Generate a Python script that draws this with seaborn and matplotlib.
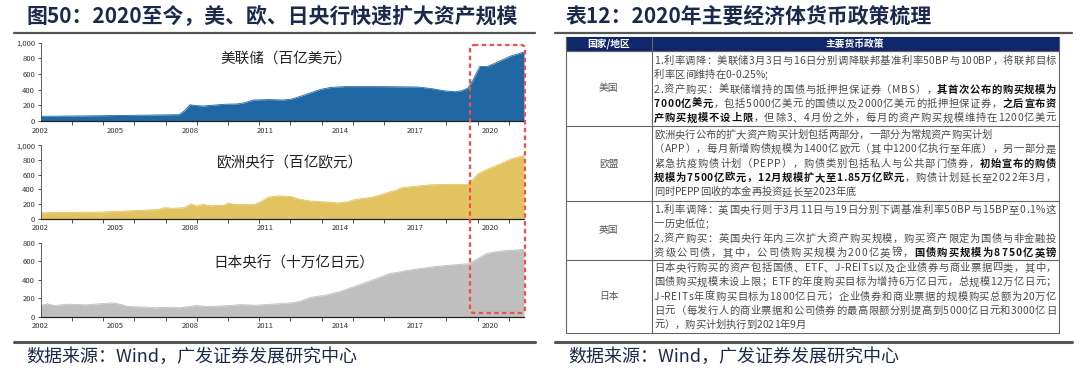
import numpy as np
import matplotlib
matplotlib.use("Agg")
import matplotlib.pyplot as plt
import seaborn as sns
from matplotlib.patches import Rectangle, FancyBboxPatch
from matplotlib.ticker import FixedLocator, FuncFormatter

sns.set_theme(style="ticks")
plt.rcParams["font.family"] = ["Noto Sans CJK SC", "DejaVu Sans"]

# ---- data (x in years) ----
fed_year = [2002.0, 2004.49, 2007.54, 2007.75, 2007.98, 2008.16, 2008.51, 2009.34, 2009.89,
            2010.17, 2010.52, 2011.14, 2011.7, 2012.04, 2012.39, 2012.8, 2013.22, 2013.63,
            2014.19, 2015.57, 2017.1, 2017.65, 2018.2, 2018.62, 2018.83, 2019.11, 2019.31,
            2019.59, 2019.87, 2020.14, 2020.84, 2021.36]
fed_val = [62, 70, 83, 130, 210, 200, 193, 215, 220, 235, 270, 275, 270, 280, 315, 360, 405,
           430, 440, 440, 435, 415, 385, 375, 385, 420, 520, 697, 695, 730, 830, 880]

ecb_year = [2002.0, 2004.49, 2006.16, 2006.7, 2006.99, 2007.26, 2007.75, 2008.02, 2008.25,
            2008.5, 2008.76, 2009.32, 2009.53, 2009.73, 2010.56, 2010.84, 2011.11, 2011.52,
            2012.0, 2012.38, 2012.8, 2013.63, 2013.91, 2014.32, 2014.6, 2015.3, 2015.85,
            2016.27, 2016.4, 2016.96, 2017.65, 2018.34, 2019.1, 2019.24, 2019.52, 2019.87,
            2020.42, 2020.84, 2021.36]
ecb_val = [80, 90, 115, 125, 150, 140, 150, 200, 170, 195, 175, 182, 213, 191, 191, 236, 293,
           310, 302, 262, 240, 222, 213, 231, 262, 293, 351, 390, 418, 440, 462, 467, 467,
           511, 613, 671, 747, 815, 860]

boj_year = [2002.0, 2002.28, 2002.55, 2003.11, 2003.8, 2004.49, 2004.91, 2005.25, 2005.46,
            2006.29, 2006.57, 2007.26, 2007.54, 2008.23, 2008.65, 2009.34, 2010.03, 2010.59,
            2011.42, 2012.11, 2012.39, 2012.8, 2013.36, 2013.91, 2014.47, 2015.02, 2015.57,
            2015.99, 2016.27, 2016.54, 2017.65, 2018.34, 2019.17, 2019.45, 2019.87, 2020.42,
            2021.36]
boj_val = [126, 140, 123, 137, 130, 144, 151, 133, 112, 105, 98, 105, 98, 123, 112, 119, 133,
           126, 140, 154, 168, 211, 232, 267, 319, 372, 425, 470, 479, 496, 539, 557, 575,
           621, 686, 711, 729]

year_labels = [2002, 2005, 2008, 2011, 2014, 2017, 2020]
panel_names = ["美联储（百亿美元）", "欧洲央行（百亿欧元）", "日本央行（十万亿日元）"]
panel_colors = ["#1f68a4", "#e2c35f", "#bfbfbf"]
panel_ymax = [1000, 1000, 800]

left_title = "图50：2020至今，美、欧、日央行快速扩大资产规模"
right_title = "表12：2020年主要经济体货币政策梳理"
source = "数据来源：Wind，广发证券发展研究中心"

table_header = ["国家/地区", "主要货币政策"]
table_regions = ["美国", "欧盟", "英国", "日本"]
# each line: (segments [(text, bold)], justified)
table_lines = [
    [
        ([("1.利率调降：美联储3月3日与16日分别调降联邦基准利率50BP与100BP，将联邦目标", 0)], 1),
        ([("利率区间维持在0-0.25%;", 0)], 0),
        ([("2.资产购买：美联储增持的国债与抵押担保证券（MBS），", 0), ("其首次公布的购买规模为", 1)], 1),
        ([("7000亿美元", 1), ("，包括5000亿美元的国债以及2000亿美元的抵押担保证券，", 0), ("之后宣布资", 1)], 1),
        ([("产购买规模不设上限", 1), ("，但除3、4月份之外，每月的资产购买规模维持在1200亿美元", 0)], 1),
    ],
    [
        ([("欧洲央行公布的扩大资产购买计划包括两部分，一部分为常规资产购买计划", 0)], 0),
        ([("（APP），每月新增购债规模为1400亿欧元（其中1200亿执行至年底），另一部分是", 0)], 1),
        ([("紧急抗疫购债计划（PEPP），购债类别包括私人与公共部门债券，", 0), ("初始宣布的购债", 1)], 1),
        ([("规模为7500亿欧元，12月规模扩大至1.85万亿欧元", 1), ("，购债计划延长至2022年3月，", 0)], 1),
        ([("同时PEPP回收的本金再投资延长至2023年底", 0)], 0),
    ],
    [
        ([("1.利率调降：英国央行则于3月11日与19日分别下调基准利率50BP与15BP至0.1%这", 0)], 1),
        ([("一历史低位;", 0)], 0),
        ([("2.资产购买：英国央行年内三次扩大资产购买规模，购买资产限定为国债与非金融投", 0)], 1),
        ([("资级公司债，其中，公司债购买规模为200亿英镑，", 0), ("国债购买规模为8750亿英镑", 1)], 1),
    ],
    [
        ([("日本央行购买的资产包括国债、ETF、J-REITs以及企业债券与商业票据四类，其中，", 0)], 1),
        ([("国债购买规模未设上限；ETF的年度购买目标为增持6万亿日元，总规模12万亿日元；", 0)], 1),
        ([("J-REITs年度购买目标为1800亿日元；企业债券和商业票据的规模购买总额为20万亿", 0)], 1),
        ([("日元（每发行人的商业票据和公司债券的最高限额分别提高到5000亿日元和3000亿日", 0)], 1),
        ([("元），购买计划执行到2021年9月", 0)], 0),
    ],
]

W, H = 1080, 379
fig = plt.figure(figsize=(W / 100, H / 100), dpi=100)
navy = "#1b2a4a"


def px_axes(left, top, right, bottom):
    return fig.add_axes([left / W, 1 - bottom / H, (right - left) / W, (bottom - top) / H])


# ---- three area charts ----
series = [(fed_year, fed_val), (ecb_year, ecb_val), (boj_year, boj_val)]
boxes = [(42.6, 121.2), (145.3, 218.6), (242.8, 316.9)]
for (xs, ys), color, ymax, (top, bottom) in zip(series, panel_colors, panel_ymax, boxes):
    ax = px_axes(40.7, top, 524, bottom)
    sns.lineplot(x=xs, y=ys, ax=ax, color=color, lw=0.6)
    ax.fill_between(xs, ys, color=color, lw=0)
    ax.set_xlim(2002, 2021.36)
    ax.set_ylim(0, ymax)
    ax.set_yticks(range(0, ymax + 1, 200))
    ax.yaxis.set_major_formatter(FuncFormatter(lambda v, p: f"{int(v):,}"))
    ax.set_xticks(year_labels)
    ax.set_xticklabels([str(y) for y in year_labels])
    ax.xaxis.set_minor_locator(FixedLocator(np.arange(2002, 2021.4, 1.25)))
    ax.tick_params(axis="x", which="major", length=0, labelsize=5.5, pad=4, colors="#333333")
    ax.tick_params(axis="x", which="minor", length=3, width=0.6, color="#333333")
    ax.tick_params(axis="y", length=2, width=0.6, labelsize=5.5, pad=2, colors="#333333")
    for s in ["top", "right"]:
        ax.spines[s].set_visible(False)
    ax.spines["left"].set_linewidth(0.6)
    ax.spines["left"].set_color("#444444")
    ax.spines["bottom"].set_linewidth(0.9)
    ax.spines["bottom"].set_color("#222222")
    ax.set_xlabel("")
    ax.set_ylabel("")
    ax.patch.set_alpha(0)

# ---- overlay in pixel coordinates ----
ov = fig.add_axes([0, 0, 1, 1])
ov.set_xlim(0, W)
ov.set_ylim(H, 0)
ov.axis("off")
ov.set_zorder(10)

for name, (cx, cy) in zip(panel_names, [(286, 59), (290, 162.6), (294, 262.8)]):
    ov.text(cx, cy, name, fontsize=10.5, ha="center", va="center", color="#222222")

ov.add_patch(FancyBboxPatch((470, 45), 55, 268, boxstyle="round,pad=0,rounding_size=4",
                            fill=False, edgecolor="#f0504a", lw=1.6, linestyle=(0, (2, 1.5))))

# titles, rules, sources
ov.text(26, 16, left_title, fontsize=15, fontweight="bold", color=navy, va="center")
ov.text(566, 16, right_title, fontsize=15, fontweight="bold", color=navy, va="center")
for x0, x1 in [(14, 535), (555, 1072)]:
    ov.plot([x0, x1], [33, 33], color="#555555", lw=1.6)
    ov.plot([x0, x1], [341.5, 341.5], color="#555555", lw=2.2)
ov.text(26, 357, source, fontsize=13, color=navy, va="center")
ov.text(568, 357, source, fontsize=13, color=navy, va="center")

# ---- table ----
tl, tdiv, tr = 566, 651.5, 1059
row_edges = [37, 51, 126, 201, 260, 333]
ov.add_patch(Rectangle((tl, row_edges[0]), tr - tl, row_edges[1] - row_edges[0],
                       facecolor="#10286b", edgecolor="#10286b", lw=0.8))
ov.text((tl + tdiv) / 2, 44, table_header[0], fontsize=7, fontweight="bold", color="white",
        ha="center", va="center")
ov.text(855, 44, table_header[1], fontsize=7, fontweight="bold", color="white",
        ha="center", va="center")
for y in row_edges[1:]:
    ov.plot([tl, tr], [y, y], color="#666666", lw=0.8)
for x in [tl, tdiv, tr]:
    ov.plot([x, x], [row_edges[0], row_edges[-1]], color="#666666", lw=0.8)

renderer = fig.canvas.get_renderer()
TS = 7.4
text_left, text_right = 654, 1056
line_gap = 14.3
first_line_y = [61, 135, 210, 268]

for region, lines, r0, r1, y0 in zip(table_regions, table_lines, row_edges[1:-1],
                                     row_edges[2:], first_line_y):
    ov.text((tl + tdiv) / 2, (r0 + r1) / 2, region, fontsize=7, color="#555555",
            ha="center", va="center")
    for i, (segs, just) in enumerate(lines):
        y = y0 + i * line_gap
        chars = []
        for txt, bold in segs:
            for ch in txt:
                t = ov.text(0, y, ch, fontsize=TS, va="center", ha="left",
                            fontweight="bold" if bold else "normal",
                            color="#111111" if bold else "#4a4a4a")
                chars.append((t, t.get_window_extent(renderer).width))
        total = sum(w for _, w in chars)
        avail = text_right - text_left
        gap = (avail - total) / (len(chars) - 1) if (just or total > avail) else 0
        x = text_left
        for t, w in chars:
            t.set_x(x)
            x += w + gap

fig.savefig("out.png", dpi=100)
